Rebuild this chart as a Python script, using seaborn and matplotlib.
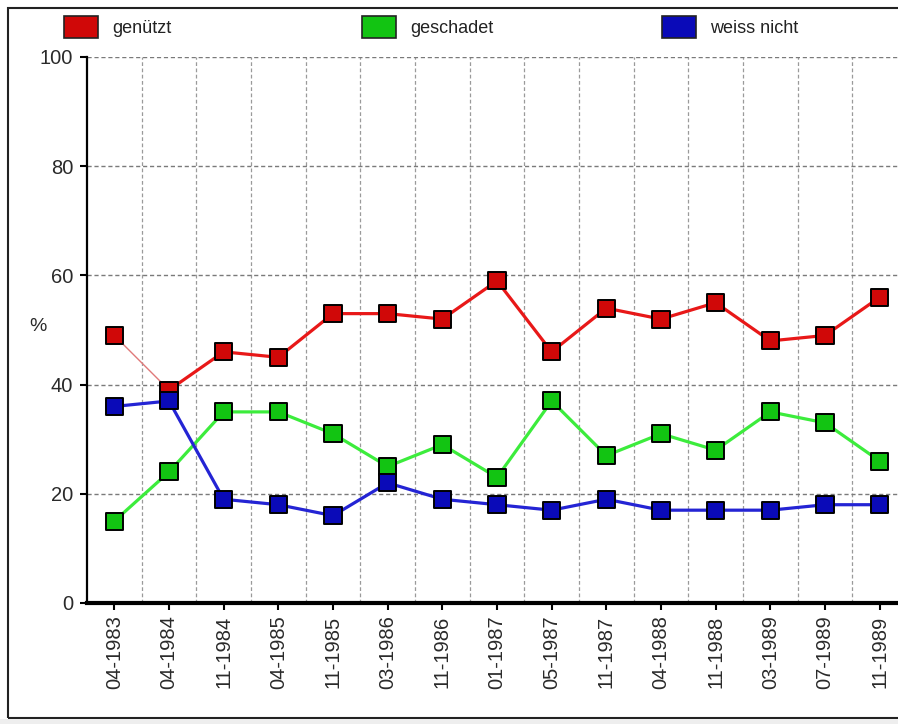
import matplotlib
matplotlib.use("Agg")
import matplotlib.pyplot as plt
import seaborn as sns
import pandas as pd
import numpy as np
from matplotlib.patches import Patch, Rectangle

# ---- data ----
dates = ["04-1983", "04-1984", "11-1984", "04-1985", "11-1985", "03-1986",
         "11-1986", "01-1987", "05-1987", "11-1987", "04-1988", "11-1988",
         "03-1989", "07-1989", "11-1989"]
genuetzt = [49, 39, 46, 45, 53, 53, 52, 59, 46, 54, 52, 55, 48, 49, 56]
geschadet = [15, 24, 35, 35, 31, 25, 29, 23, 37, 27, 31, 28, 35, 33, 26]
weiss_nicht = [36, 37, 19, 18, 16, 22, 19, 18, 17, 19, 17, 17, 17, 18, 18]
series_names = ["genützt", "geschadet", "weiss nicht"]
y_ticks = [0, 20, 40, 60, 80, 100]

line_colors = {"genützt": "#e81818", "geschadet": "#3cec3c", "weiss nicht": "#2424d4"}
marker_colors = {"genützt": "#d00808", "geschadet": "#12c412", "weiss nicht": "#0a0ab8"}

sns.set_theme(style="white")
plt.rcParams['font.family'] = ['Liberation Sans', 'DejaVu Sans']

W, H = 898, 724
fig = plt.figure(figsize=(W / 100, H / 100), dpi=100)
fig.patch.set_facecolor("white")
ax = fig.add_axes([87 / W, 1 - 603 / H, (907 - 87) / W, (603 - 57) / H])
ax.set_facecolor("white")

pos = list(range(len(dates)))
all_vals = {"genützt": genuetzt, "geschadet": geschadet, "weiss nicht": weiss_nicht}

# thin first segment of the red series
sns.lineplot(x=pos[:2], y=genuetzt[:2], color="#e07a7a", linewidth=1.0, ax=ax, zorder=2)

rows = []
for name in series_names:
    vals = all_vals[name]
    start = 1 if name == "genützt" else 0
    for i in range(start, len(dates)):
        rows.append({"x": pos[i], "Wert": vals[i], "Serie": name})
df = pd.DataFrame(rows)

sns.lineplot(data=df, x="x", y="Wert", hue="Serie", hue_order=series_names,
             palette=line_colors, linewidth=2.3, sort=False, legend=False,
             ax=ax, zorder=3)

# markers
mrows = []
for name in series_names:
    for i, v in enumerate(all_vals[name]):
        mrows.append({"x": pos[i], "Wert": v, "Serie": name})
mdf = pd.DataFrame(mrows)
sns.scatterplot(data=mdf, x="x", y="Wert", hue="Serie", hue_order=series_names,
                palette=marker_colors, marker="s", s=150, edgecolor="black",
                linewidth=1.4, legend=False, ax=ax, zorder=4)

ax.set_xlim(-0.5, len(dates) - 0.5)
ax.set_ylim(0, 100)
ax.set_xticks(pos)
ax.set_xticklabels(dates, rotation=90, fontsize=14.5, color="#2a2a2a")
ax.set_xticks([p + 0.5 for p in pos], minor=True)
ax.set_yticks(y_ticks)
ax.set_yticklabels([str(t) for t in y_ticks], fontsize=14.5, color="#2a2a2a")
ax.set_xlabel("")
ax.set_ylabel("%", rotation=0, fontsize=14, color="#2a2a2a")
ax.yaxis.set_label_coords((38 - 87) / 820, (603 - 335) / 546)

ax.tick_params(axis="x", which="major", direction="out", length=5, width=1.5,
               color="black", pad=4, bottom=True)
ax.tick_params(axis="x", which="minor", length=0)
ax.tick_params(axis="y", which="major", direction="out", length=5, width=1.5,
               color="black", pad=5, left=True)

ax.yaxis.grid(True, which="major", linestyle=(0, (3, 2)), color="#7a7a7a", linewidth=1.0)
ax.xaxis.grid(True, which="minor", linestyle=(0, (3, 2)), color="#9a9a9a", linewidth=0.9)
ax.xaxis.grid(False, which="major")
ax.set_axisbelow(True)

for s in ["top", "right"]:
    ax.spines[s].set_visible(False)
ax.spines["left"].set_color("black")
ax.spines["left"].set_linewidth(1.6)
ax.spines["bottom"].set_color("black")
ax.spines["bottom"].set_linewidth(3.0)
ax.spines["bottom"].set_zorder(5)

# legend (three entries spread across the top)
legend_x = [64, 362, 662]
for name, lx in zip(series_names, legend_x):
    h = Patch(facecolor=marker_colors[name], edgecolor="#222222", linewidth=1.2)
    fig.legend(handles=[h], labels=[name], loc="center left",
               bbox_to_anchor=(lx / W, 1 - 27 / H), frameon=False,
               fontsize=13, handlelength=1.9, handleheight=1.5,
               handletextpad=0.75, borderpad=0, borderaxespad=0,
               labelcolor="#222222")

# outer frame of the image
fig.add_artist(Rectangle((8 / W, 1 - 718 / H), 1.2, (718 - 8) / H,
                         transform=fig.transFigure, fill=False,
                         edgecolor="#222222", linewidth=1.5))
fig.add_artist(Rectangle((0, 0), 1, 5 / H, transform=fig.transFigure,
                         facecolor="#eeeeee", edgecolor="none"))

fig.savefig("out.png", dpi=100, facecolor="white")
